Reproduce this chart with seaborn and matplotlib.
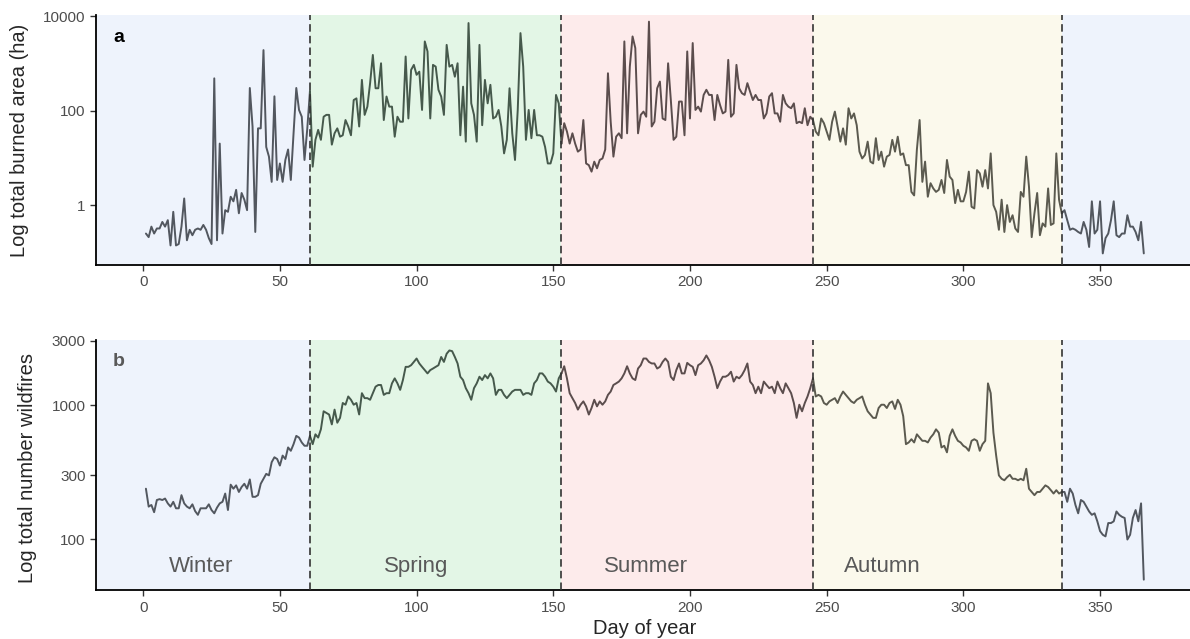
import numpy as np
import pandas as pd
import seaborn as sns
import matplotlib.pyplot as plt

# daily totals, split by season (day 1..366)
area_winter_jan = [0.25, 0.21, 0.35, 0.25, 0.32, 0.32, 0.44, 0.35, 0.48, 0.14,
                   0.72, 0.14, 0.15, 0.35, 1.38, 0.18, 0.30, 0.23, 0.30, 0.32,
                   0.30, 0.38, 0.30, 0.20, 0.15, 480, 0.18, 20, 0.25, 0.78,
                   0.72, 1.5, 1.2, 2.1, 0.67, 1.8, 1.3, 0.78, 300, 46,
                   0.27, 42, 42, 1900, 17, 10.6, 3.1, 200, 3.4, 7.6,
                   3.1, 9, 15, 3.4, 33, 300, 103, 74, 9, 40]
area_spring = [260, 6.5, 24, 39, 24, 74, 81, 81, 19, 33,
               42, 28, 30, 63, 46, 30, 167, 181, 46, 445,
               81, 121, 380, 1500, 296, 296, 1000, 63, 198, 121,
               121, 28, 74, 58, 58, 1390, 68, 725, 925, 570,
               665, 103, 2900, 1780, 68, 925, 850, 275, 198, 81,
               2450, 850, 925, 520, 1000, 30, 320, 22, 7100, 142,
               81, 22, 2450, 49, 445, 142, 350, 68, 74, 103,
               46, 12.4, 24, 296, 33, 9, 103, 4350, 850, 24,
               103, 26, 103, 30, 30, 28, 17, 7.6, 7.6, 12.4,
               214, 142]
area_summer = [20, 54, 36, 20, 33, 20, 13.5, 15,
               63, 7.6, 7, 5.1, 8.3, 6, 9, 9.7, 15, 615,
               58, 10.6, 28, 33, 26, 2900, 33, 850, 3700, 2100,
               33, 81, 95, 74, 7600, 46, 58, 296, 410, 68,
               63, 1000, 167, 24, 28, 155, 155, 30, 1780, 68,
               2680, 103, 121, 95, 214, 275, 214, 214, 63, 214,
               131, 87, 95, 1180, 74, 87, 925, 296, 233, 214,
               380, 250, 167, 214, 167, 167, 68, 87, 198, 233,
               87, 87, 58, 214, 142, 121, 112, 142, 54, 58,
               54, 112, 49, 74, 63]
area_autumn = [36, 30, 68, 54, 36, 24, 58, 95, 46, 22,
               42, 19, 112, 68, 87, 49, 13.5, 9.7, 11.5, 22,
               8.3, 7.6, 26, 9, 13.5, 6.5, 10.6, 11.5, 24, 13.5,
               28, 11.5, 12.4, 7, 7, 1.9, 1.6, 15, 63, 3.1,
               8.3, 1.5, 2.9, 2.25, 1.9, 2.1, 3.4, 1.8, 9, 4,
               3.4, 1.1, 2.1, 1.2, 1.2, 1.9, 5.1, 0.92, 0.85, 5.5,
               4.7, 2.45, 5.5, 2.25, 12.4, 1.0, 0.72, 0.30, 1.3, 0.27,
               1.0, 0.44, 0.61, 0.32, 0.27, 1.9, 1.5, 10.6, 2.45, 0.21,
               0.67, 1.8, 0.23, 0.41, 0.35, 2.25, 0.38, 0.41, 12.4, 1.3,
               0.67]
area_winter_dec = [0.78, 0.48, 0.30, 0.32, 0.30, 0.27, 0.25, 0.44, 0.30, 0.13,
                   1.2, 0.25, 0.30, 1.2, 0.095, 0.20, 0.25, 0.48, 1.2, 0.23,
                   0.21, 0.25, 0.25, 0.61, 0.35, 0.35, 0.27, 0.18, 0.44, 0.095]

fires_winter_jan = [238, 175, 180, 159, 196, 199, 196, 201, 185, 175,
                    190, 170, 170, 213, 185, 175, 170, 182, 162, 152,
                    170, 170, 170, 182, 165, 156, 172, 185, 190, 219,
                    165, 255, 238, 252, 225, 245, 259, 238, 279, 207,
                    207, 213, 259, 282, 307, 299, 375, 408, 396, 354,
                    420, 396, 483, 456, 511, 589, 572, 526, 497, 497]
fires_spring = [589, 511, 605, 572, 659, 898, 873, 849, 717, 924,
                738, 802, 1035, 1005, 1158, 1094, 1005, 1035, 850, 1225,
                1125, 1125, 1094, 1225, 1370, 1410, 1410, 1190, 1225, 1225,
                1450, 1580, 1450, 1297, 1535, 1925, 1925, 1980, 2095, 2220,
                2040, 1925, 1820, 1720, 1820, 1870, 1925, 1980, 2280, 2095,
                2410, 2550, 2520, 2280, 2040, 1625, 1535, 1335, 1225, 1094,
                1335, 1450, 1625, 1535, 1670, 1580, 1720, 1580, 1190, 1297,
                1297, 1190, 1125, 1190, 1260, 1297, 1297, 1297, 1190, 1225,
                1225, 1190, 1450, 1535, 1720, 1720, 1625, 1495, 1450, 1370,
                1260, 1580, 1720]
fires_summer = [1945, 1580, 1225, 1125, 1035, 924, 1005, 1064, 977, 849,
                950, 1094, 977, 1064, 1005, 1064, 1190, 1260, 1410, 1450,
                1495, 1580, 1720, 1945, 1720, 1580, 1535, 1870, 1980, 2220,
                2220, 2095, 2040, 2040, 1870, 1925, 2095, 2220, 2095, 1625,
                1535, 1820, 2040, 1720, 1720, 2060, 1980, 1925, 1670, 1980,
                2040, 2155, 2340, 2155, 1925, 1625, 1335, 1495, 1625, 1625,
                1670, 1770, 1495, 1625, 1580, 1670, 1820, 2040, 1495, 1410,
                1225, 1370, 1225, 1495, 1410, 1335, 1370, 1225, 1495, 1335,
                1225, 1450, 1335, 1225, 1035, 802, 1005, 898, 1035, 1158,
                1335, 1580]
fires_autumn = [1158, 1190, 1158, 1035, 1005, 1064, 1094, 1125, 1035, 1158,
                1260, 1190, 1125, 1064, 1035, 1094, 1125, 1158, 1005, 898,
                849, 802, 802, 950, 1005, 1005, 950, 1035, 1064, 935,
                1094, 1005, 826, 511, 526, 556, 526, 605, 572, 541,
                541, 526, 572, 605, 659, 622, 483, 497, 444, 589,
                659, 589, 541, 526, 497, 483, 456, 541, 556, 541,
                456, 511, 541, 1450, 1225, 622, 420, 299, 282, 275,
                290, 302, 282, 282, 275, 282, 275, 335, 238, 225,
                213, 225, 225, 238, 252, 245, 232, 219, 232, 219,
                225]
fires_winter_dec = [225, 190, 238, 219, 180, 156, 196, 190, 175, 161,
                    152, 156, 136, 115, 108, 105, 132, 132, 136, 161,
                    152, 147, 144, 99.5, 108, 144, 165, 136, 185, 50]

seasons = ["Winter", "Spring", "Summer", "Autumn", "Winter"]
season_starts = [1, 61, 153, 245, 336]
season_bg = ["#eef3fc", "#e3f6e6", "#fdebeb", "#fbf9ec", "#eef3fc"]
season_line = ["#52575f", "#46594c", "#5b4d4d", "#5b5a4f", "#52575f"]
label_days = [21, 100, 184, 270.5]

area = area_winter_jan + area_spring + area_summer + area_autumn + area_winter_dec
fires = fires_winter_jan + fires_spring + fires_summer + fires_autumn + fires_winter_dec
days = np.arange(1, len(area) + 1)

# one segment per season, each sharing its last point with the next season
rows = []
ends = season_starts[1:] + [len(days)]
for i, (s, e) in enumerate(zip(season_starts, ends)):
    for d in range(s, e + 1):
        rows.append({"day": d, "area": area[d - 1], "fires": fires[d - 1], "seg": i})
df = pd.DataFrame(rows)

sns.set_theme(style="ticks")
plt.rcParams["font.family"] = ["Liberation Sans", "DejaVu Sans"]

fig = plt.figure(figsize=(11.9, 6.39), dpi=100)
ax1 = fig.add_axes([0.0807, 0.5853, 0.9224, 0.3912])
ax2 = fig.add_axes([0.0807, 0.0759, 0.9224, 0.3920])

xmin, xmax = -17.25, 384.25
bounds = [xmin] + season_starts[1:] + [xmax]

for ax, col in [(ax1, "area"), (ax2, "fires")]:
    for i in range(5):
        ax.axvspan(bounds[i], bounds[i + 1], color=season_bg[i], lw=0, zorder=0)
    sns.lineplot(data=df, x="day", y=col, hue="seg", palette=season_line,
                 legend=False, lw=1.4, ax=ax, zorder=3)
    for d in season_starts[1:]:
        ax.axvline(d, color="#333333", ls=(0, (4.5, 2.5)), lw=1.2, zorder=4)
    ax.set_yscale("log")
    ax.set_xlim(xmin, xmax)
    ax.set_xticks([0, 50, 100, 150, 200, 250, 300, 350])
    ax.minorticks_off()
    ax.tick_params(axis="both", length=4, width=1, color="#333333",
                   labelcolor="#4d4d4d", labelsize=11)
    for sp in ["top", "right"]:
        ax.spines[sp].set_visible(False)
    for sp in ["left", "bottom"]:
        ax.spines[sp].set_color("black")
        ax.spines[sp].set_linewidth(1.3)
    ax.set_xlabel("")

ax1.set_ylim(0.054, 10500)
ax1.set_yticks([1, 100, 10000])
ax1.set_yticklabels(["1", "100", "10000"])
ax1.set_ylabel("Log total burned area (ha)", fontsize=14.5)
ax1.yaxis.set_label_coords(-0.061, 0.5)
ax1.text(0.021, 0.91, "a", transform=ax1.transAxes, fontsize=14,
         fontweight="bold", color="black", ha="center", va="center")

ax2.set_ylim(41.5, 3050)
ax2.set_yticks([100, 300, 1000, 3000])
ax2.set_yticklabels(["100", "300", "1000", "3000"])
ax2.set_ylabel("Log total number wildfires", fontsize=14.5)
ax2.yaxis.set_label_coords(-0.054, 0.49)
ax2.set_xlabel("Day of year", fontsize=14.5)
ax2.xaxis.set_label_coords(0.5, -0.115)
ax2.text(0.021, 0.915, "b", transform=ax2.transAxes, fontsize=14,
         fontweight="bold", color="#595959", ha="center", va="center")
for name, d in zip(seasons[:4], label_days):
    ax2.text(d, 63, name, fontsize=16, color="#595959", ha="center", va="center")

fig.savefig("out.png", dpi=100)
